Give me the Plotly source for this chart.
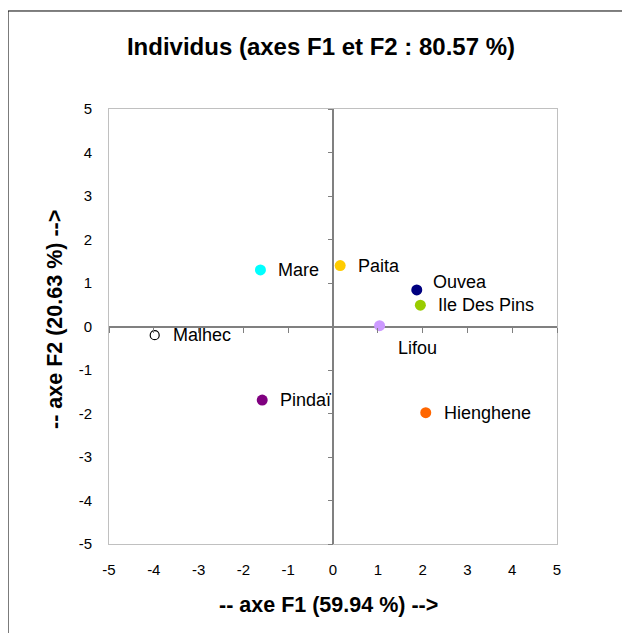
import plotly.graph_objects as go

names = ["Mare", "Paita", "Ouvea", "Ile Des Pins", "Lifou", "Malhec", "Pindaï", "Hienghene"]
f1 = [-1.62, 0.16, 1.87, 1.95, 1.04, -3.98, -1.58, 2.07]
f2 = [1.30, 1.40, 0.84, 0.49, 0.02, -0.20, -1.69, -1.98]
colors = ["#00FFFF", "#FFCC00", "#000080", "#99CC00", "#CC99FF", "#FFFFFF", "#800080", "#FF6600"]
line_colors = ["rgba(0,0,0,0)"] * 5 + ["#000000"] + ["rgba(0,0,0,0)"] * 2
sizes = [11, 11, 11, 11, 11, 9, 11, 11]
label_dx = [16, 16, 14, 16, 16, 16, 16, 16]
label_dy = [0, 0, 8, 0, -22, 0, 0, 0]

ticks = [-5, -4, -3, -2, -1, 0, 1, 2, 3, 4, 5]
tick_text = [str(t) for t in ticks]

title = "Individus (axes F1 et F2 : 80.57 %)"
xtitle = "-- axe F1 (59.94 %) -->"
ytitle = "-- axe F2 (20.63 %) -->"

FONT = "Liberation Sans, Arial, sans-serif"

fig = go.Figure()
fig.add_trace(go.Scatter(
    x=f1, y=f2, mode="markers",
    marker=dict(color=colors, size=sizes, opacity=1, line=dict(color=line_colors, width=1.2)),
    hoverinfo="skip", showlegend=False,
))
# empty trace to instantiate overlay axes that carry ticks along the zero lines
fig.add_trace(go.Scatter(x=[], y=[], xaxis="x2", yaxis="y2", showlegend=False, hoverinfo="skip"))

for n, x, y, dx, dy in zip(names, f1, f2, label_dx, label_dy):
    fig.add_annotation(x=x, y=y, text=n, showarrow=False, xanchor="left", yanchor="middle",
                       xshift=dx, yshift=dy, font=dict(family=FONT, size=18, color="#000000"))

fig.add_annotation(xref="paper", yref="paper", x=0.491, y=-0.1402, text="<b>%s</b>" % xtitle,
                   showarrow=False, xanchor="center", yanchor="middle",
                   font=dict(family=FONT, size=21.5, color="#000000"))
fig.add_annotation(xref="paper", yref="paper", x=-0.1205, y=0.515, text="<b>%s</b>" % ytitle,
                   showarrow=False, xanchor="center", yanchor="middle", textangle=-90,
                   font=dict(family=FONT, size=21.5, color="#000000"))

fig.update_layout(
    width=630, height=633,
    margin=dict(l=101, r=81, t=101, b=97),
    paper_bgcolor="white", plot_bgcolor="white",
    title=dict(text="<b>%s</b>" % title, x=313 / 630, y=1 - 39 / 633, xref="container", yref="container",
               xanchor="center", yanchor="middle", font=dict(family=FONT, size=24, color="#000000")),
    xaxis=dict(range=[-5, 5], tickvals=ticks, ticktext=tick_text, showgrid=False,
               zeroline=True, zerolinecolor="#808080", zerolinewidth=2,
               showline=True, linecolor="#C0C0C0", linewidth=1, mirror=True,
               ticks="", ticklabelstandoff=12, fixedrange=True,
               tickfont=dict(family=FONT, size=15, color="#000000")),
    yaxis=dict(range=[-5, 5], tickvals=ticks, ticktext=tick_text, showgrid=False,
               zeroline=True, zerolinecolor="#808080", zerolinewidth=2,
               showline=True, linecolor="#C0C0C0", linewidth=1, mirror=True,
               ticks="", ticklabelstandoff=13, fixedrange=True,
               tickfont=dict(family=FONT, size=15, color="#000000")),
    xaxis2=dict(overlaying="x", anchor="free", position=0.5, side="bottom", range=[-5, 5],
                tickvals=ticks, ticks="outside", ticklen=5, tickwidth=1, tickcolor="#808080",
                showticklabels=False, showline=False, showgrid=False, zeroline=False),
    yaxis2=dict(overlaying="y", anchor="free", position=0.5, side="left", range=[-5, 5],
                tickvals=ticks, ticks="outside", ticklen=5, tickwidth=1, tickcolor="#808080",
                showticklabels=False, showline=False, showgrid=False, zeroline=False),
    shapes=[dict(type="rect", xref="paper", yref="paper", x0=-0.2254, y0=-0.3, x1=1.3, y1=1.2253,
                 line=dict(color="#000000", width=1), fillcolor="rgba(0,0,0,0)", layer="below")],
)

fig.write_html("out.html")
